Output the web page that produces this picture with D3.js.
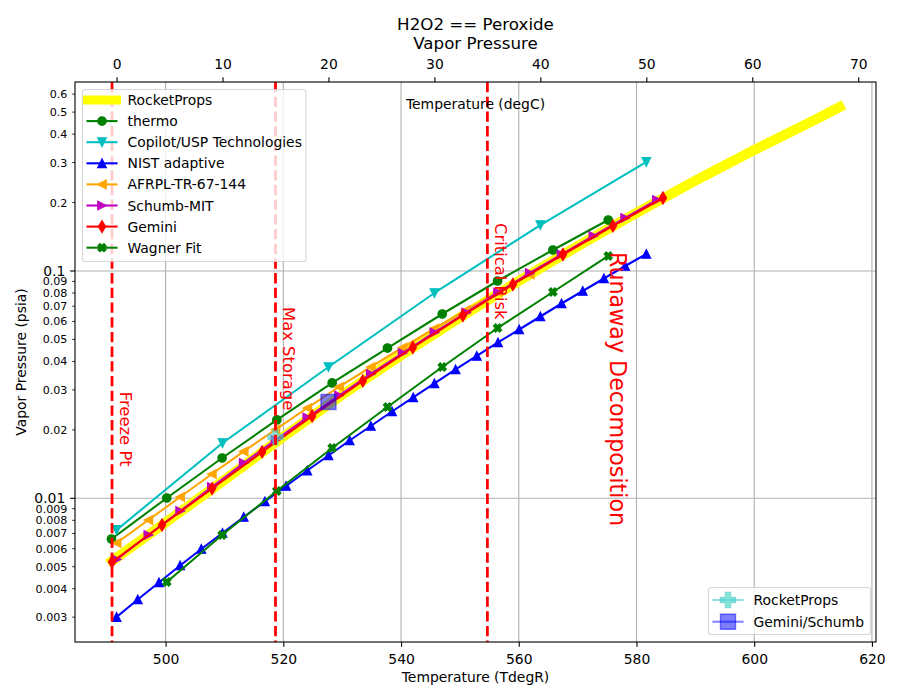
<!DOCTYPE html>
<html>
<head>
<meta charset="utf-8">
<script src="https://cdn.jsdelivr.net/npm/d3@7"></script>
<style>
  body { margin: 0; background: #fff; }
  text { font-family: "DejaVu Sans", sans-serif; }
</style>
</head>
<body>
<svg id="chart" width="900" height="700"></svg>
<script>
"use strict";

// ---- data (temperatures in degR, pressures in psia) ----
const rocketPropsT = [490.9, 500, 510, 520, 530, 540, 550, 560, 570, 580, 590, 600, 610, 614.5];
const rocketPropsP = [0.005299, 0.007824, 0.01205, 0.01866, 0.02850, 0.04253, 0.06243, 0.09036, 0.1286, 0.1803, 0.2498, 0.3406, 0.4583, 0.5266];

const thermoT = [490.8, 500.2, 509.6, 518.9, 528.3, 537.7, 547.0, 556.4, 565.8, 575.2];
const thermoP = [0.00662, 0.01003, 0.01504, 0.02211, 0.03216, 0.04583, 0.06468, 0.09036, 0.1237, 0.1676];

const copilotT = [491.67, 509.67, 527.67, 545.67, 563.67, 581.67];
const copilotP = [0.007254, 0.01751, 0.03781, 0.08002, 0.1593, 0.3017];

const nistT = [491.67, 495.27, 498.87, 502.47, 506.07, 509.67, 513.27, 516.87, 520.47, 524.07, 527.67, 531.27, 534.87,
               538.47, 542.07, 545.67, 549.27, 552.87, 556.47, 560.07, 563.67, 567.27, 570.87, 574.47, 578.07, 581.67];
const nistP = [0.003004, 0.003588, 0.004262, 0.005063, 0.005983, 0.007036, 0.008273, 0.009681, 0.01133, 0.01325, 0.01543, 0.01796, 0.02080,
               0.02409, 0.02777, 0.03200, 0.03687, 0.04227, 0.04847, 0.05528, 0.06307, 0.07194, 0.08166, 0.09268, 0.1052, 0.1188];

const afrplT = [491.67, 497.07, 502.47, 507.87, 513.27, 518.67, 524.07, 529.47, 534.87, 540.27, 545.67, 551.07, 556.47, 561.87];
const afrplP = [0.006357, 0.008025, 0.01013, 0.01279, 0.01607, 0.02007, 0.02496, 0.03088, 0.03781, 0.04607, 0.05585, 0.06736, 0.08083, 0.09652];

const schumbT = [491.67, 497.07, 502.47, 507.87, 513.27, 518.67, 524.07, 529.47, 534.87, 540.27, 545.67, 551.07, 556.47,
                 561.87, 567.27, 572.67, 578.07, 583.47];
const schumbP = [0.005381, 0.006895, 0.008793, 0.01121, 0.01430, 0.01805, 0.02267, 0.02833, 0.03523, 0.04357, 0.05364, 0.06567, 0.08043,
                 0.09799, 0.1182, 0.1426, 0.1711, 0.2053];

const geminiT = [490.9, 499.4, 507.9, 516.4, 524.9, 533.5, 542.0, 550.5, 559.0, 567.5, 576.0, 584.5];
const geminiP = [0.005246, 0.007629, 0.01104, 0.01599, 0.02302, 0.03282, 0.04607, 0.06371, 0.08723, 0.1182, 0.1578, 0.2095];

const wagnerT = [500.2, 509.6, 518.9, 528.3, 537.7, 547.0, 556.4, 565.8, 575.2];
const wagnerP = [0.004283, 0.006895, 0.01077, 0.01664, 0.02522, 0.03781, 0.05614, 0.08083, 0.1164];

// single reference points
const rpPointT = [518.67];
const rpPointP = [0.01861];
const gsPointT = [527.67];
const gsPointP = [0.02653];

// vertical limit lines and their labels
const limitNames = ["Freeze Pt", "Max Storage", "Critical Risk"];
const limitT = [490.9, 518.67, 554.67];
const limitLabelP = [0.02944, 0.06944, 0.1626];
const runawayName = "Runaway Decomposition";
const runawayT = 574.2;
const runawayP = 0.1212;

// ticks
const xTicks = [500, 520, 540, 560, 580, 600, 620];
const xTopTicks = [0, 10, 20, 30, 40, 50, 60, 70];
const yMajorTicks = [0.01, 0.1];
const yMinorTicks = [0.003, 0.004, 0.005, 0.006, 0.007, 0.008, 0.009,
                     0.02, 0.03, 0.04, 0.05, 0.06, 0.07, 0.08, 0.09,
                     0.2, 0.3, 0.4, 0.5, 0.6];

// ---- layout (1pt = 1.389px) ----
const L = 75, R = 876, T0 = 82, B = 642;
const FS = 13.9;
const TICK = 4.86;

const x = d3.scaleLinear().domain([484.61, 620.69]).range([L, R]);
const xTop = d3.scaleLinear().domain([(484.61 - 491.67) / 1.8, (620.69 - 491.67) / 1.8]).range([L, R]);
const y = d3.scaleLog().domain([0.0023322, 0.67838]).range([B, T0]);

const svg = d3.select("#chart");

svg.append("defs").append("clipPath").attr("id", "plotClip")
    .append("rect").attr("x", L).attr("y", T0).attr("width", R - L).attr("height", B - T0);

// grid
const grid = svg.append("g");
grid.selectAll("line.gx").data(xTicks).join("line").attr("class", "gx")
    .attr("x1", d => x(d)).attr("x2", d => x(d)).attr("y1", T0).attr("y2", B)
    .attr("stroke", "#b0b0b0").attr("stroke-width", 1.1);
grid.selectAll("line.gy").data(yMajorTicks).join("line").attr("class", "gy")
    .attr("x1", L).attr("x2", R).attr("y1", d => y(d)).attr("y2", d => y(d))
    .attr("stroke", "#b0b0b0").attr("stroke-width", 1.1);

// ---- marker shapes ----
function plusPts(s, w) {
    return [[-w, -s], [w, -s], [w, -w], [s, -w], [s, w], [w, w], [w, s], [-w, s], [-w, w], [-s, w], [-s, -w], [-w, -w]];
}
function ptsPath(pts) {
    return "M" + pts.map(p => p[0].toFixed(2) + "," + p[1].toFixed(2)).join("L") + "Z";
}
function rot45(pts) {
    const c = Math.SQRT1_2;
    return pts.map(p => [(p[0] - p[1]) * c, (p[0] + p[1]) * c]);
}
const markers = {
    circle: "M4.17,0A4.17,4.17 0 1,1 -4.17,0A4.17,4.17 0 1,1 4.17,0Z",
    triDown: "M0,4.17L4.17,-4.17L-4.17,-4.17Z",
    triUp: "M0,-4.17L4.17,4.17L-4.17,4.17Z",
    triLeft: "M-4.17,0L4.17,-4.17L4.17,4.17Z",
    triRight: "M4.17,0L-4.17,-4.17L-4.17,4.17Z",
    thinDiamond: "M0,-5.8L3.5,0L0,5.8L-3.5,0Z",
    xFilled: ptsPath(rot45(plusPts(4.17, 1.39))),
    plusBig: ptsPath(plusPts(7.5, 2.5)),
    squareBig: "M-7.5,-7.5L7.5,-7.5L7.5,7.5L-7.5,7.5Z"
};

const series = [
    {name: "RocketProps", T: rocketPropsT, P: rocketPropsP, color: "#ffff00", width: 10, marker: null},
    {name: "thermo", T: thermoT, P: thermoP, color: "#008000", width: 2.08, marker: "circle"},
    {name: "Copilot/USP Technologies", T: copilotT, P: copilotP, color: "#00bfbf", width: 2.08, marker: "triDown"},
    {name: "NIST adaptive", T: nistT, P: nistP, color: "#0000ff", width: 2.08, marker: "triUp"},
    {name: "AFRPL-TR-67-144", T: afrplT, P: afrplP, color: "#ffa500", width: 2.08, marker: "triLeft"},
    {name: "Schumb-MIT", T: schumbT, P: schumbP, color: "#bf00bf", width: 2.08, marker: "triRight"},
    {name: "Gemini", T: geminiT, P: geminiP, color: "#ff0000", width: 2.08, marker: "thinDiamond"},
    {name: "Wagner Fit", T: wagnerT, P: wagnerP, color: "#008000", width: 2.08, marker: "xFilled"}
];

const points = [
    {name: "RocketProps", T: rpPointT, P: rpPointP, color: "#48d1cc", marker: "plusBig", alpha: 0.6},
    {name: "Gemini/Schumb", T: gsPointT, P: gsPointP, color: "#0000ff", marker: "squareBig", alpha: 0.5}
];

const plot = svg.append("g").attr("clip-path", "url(#plotClip)");

series.forEach(s => {
    const idx = d3.range(s.T.length);
    const line = d3.line().x(i => x(s.T[i])).y(i => y(s.P[i]));
    plot.append("path").datum(idx)
        .attr("d", line)
        .attr("fill", "none")
        .attr("stroke", s.color)
        .attr("stroke-width", s.width)
        .attr("stroke-linecap", "square")
        .attr("stroke-linejoin", "round");
    if (s.marker) {
        plot.append("g").selectAll("path").data(idx).join("path")
            .attr("transform", i => `translate(${x(s.T[i])},${y(s.P[i])})`)
            .attr("d", markers[s.marker])
            .attr("fill", s.color)
            .attr("stroke", s.color)
            .attr("stroke-width", 1.39)
            .attr("stroke-linejoin", "miter");
    }
});

points.forEach(p => {
    plot.append("g").selectAll("path").data(d3.range(p.T.length)).join("path")
        .attr("transform", i => `translate(${x(p.T[i])},${y(p.P[i])})`)
        .attr("d", markers[p.marker])
        .attr("fill", p.color).attr("fill-opacity", p.alpha)
        .attr("stroke", p.color).attr("stroke-opacity", p.alpha)
        .attr("stroke-width", 1.39);
});

// limit lines
plot.append("g").selectAll("line").data(limitT).join("line")
    .attr("x1", d => x(d)).attr("x2", d => x(d)).attr("y1", T0).attr("y2", B)
    .attr("stroke", "#ff0000").attr("stroke-width", 2.78)
    .attr("stroke-dasharray", "10.3,4.4");

// limit labels (rotated, reading downward)
const notes = svg.append("g");
limitNames.forEach((name, i) => {
    const px = x(limitT[i]) + 8, py = y(limitLabelP[i]);
    notes.append("text")
        .attr("transform", `translate(${px},${py}) rotate(90)`)
        .attr("fill", "#ff0000").attr("font-size", 16.4)
        .text(name);
});
notes.append("text")
    .attr("transform", `translate(${x(runawayT) + 8},${y(runawayP)}) rotate(90)`)
    .attr("fill", "#ff0000").attr("font-size", 22.2)
    .text(runawayName);

// ---- axes ----
const axB = svg.append("g").attr("transform", `translate(0,${B})`)
    .call(d3.axisBottom(x).tickValues(xTicks).tickFormat(d3.format("d")).tickSize(TICK).tickPadding(7.2));
const axT = svg.append("g").attr("transform", `translate(0,${T0})`)
    .call(d3.axisTop(xTop).tickValues(xTopTicks).tickFormat(d3.format("d")).tickSize(TICK).tickPadding(8.6));
[axB, axT].forEach(a => {
    a.select(".domain").remove();
    a.selectAll("line").attr("stroke", "#000").attr("stroke-width", 1.1);
    a.selectAll("text").attr("font-size", FS).attr("font-family", "DejaVu Sans").attr("fill", "#000");
});

const axY = svg.append("g");
axY.selectAll("line.maj").data(yMajorTicks).join("line").attr("class", "maj")
    .attr("x1", L - TICK).attr("x2", L).attr("y1", d => y(d)).attr("y2", d => y(d))
    .attr("stroke", "#000").attr("stroke-width", 1.1);
axY.selectAll("line.min").data(yMinorTicks).join("line").attr("class", "min")
    .attr("x1", L - 2.78).attr("x2", L).attr("y1", d => y(d)).attr("y2", d => y(d))
    .attr("stroke", "#000").attr("stroke-width", 0.83);
axY.selectAll("text.maj").data(yMajorTicks).join("text").attr("class", "maj")
    .attr("x", L - 2 * TICK).attr("y", d => y(d)).attr("dy", "0.36em")
    .attr("text-anchor", "end").attr("font-size", FS)
    .text(d => d3.format("~g")(d));
axY.selectAll("text.min").data(yMinorTicks).join("text").attr("class", "min")
    .attr("x", L - 2.78 - TICK).attr("y", d => y(d)).attr("dy", "0.36em")
    .attr("text-anchor", "end").attr("font-size", 11.1)
    .text(d => d3.format("~g")(d));

// frame
svg.append("rect").attr("x", L).attr("y", T0).attr("width", R - L).attr("height", B - T0)
    .attr("fill", "none").attr("stroke", "#000").attr("stroke-width", 1.1);

// titles and labels
const cx = (L + R) / 2;
svg.append("text").attr("x", cx).attr("y", 29.5).attr("text-anchor", "middle").attr("font-size", 16.7).text("H2O2 == Peroxide");
svg.append("text").attr("x", cx).attr("y", 49).attr("text-anchor", "middle").attr("font-size", 16.7).text("Vapor Pressure");
svg.append("text").attr("x", cx).attr("y", 109).attr("text-anchor", "middle").attr("font-size", FS).text("Temperature (degC)");
svg.append("text").attr("x", cx).attr("y", 682).attr("text-anchor", "middle").attr("font-size", FS).text("Temperature (TdegR)");
svg.append("text").attr("transform", `translate(26,${(T0 + B) / 2}) rotate(-90)`)
    .attr("text-anchor", "middle").attr("font-size", FS).text("Vapor Pressure (psia)");

// ---- legends ----
function drawLegend(box, rows, entries) {
    const g = svg.append("g");
    g.append("rect").attr("x", box.x).attr("y", box.y).attr("width", box.w).attr("height", box.h)
        .attr("rx", 2.8).attr("fill", "#fff").attr("fill-opacity", 0.8)
        .attr("stroke", "#cccccc").attr("stroke-opacity", 0.8).attr("stroke-width", 1.1);
    entries.forEach((e, i) => {
        const ry = rows[i];
        const hx0 = box.x + 5, hx1 = box.x + 34, hm = (hx0 + hx1) / 2;
        const a = e.alpha == null ? 1 : e.alpha;
        g.append("line").attr("x1", hx0).attr("x2", hx1).attr("y1", ry).attr("y2", ry)
            .attr("stroke", e.color).attr("stroke-opacity", a)
            .attr("stroke-width", e.width > 5 ? 9 : 2.08).attr("stroke-linecap", "square");
        if (e.marker) {
            g.append("path").attr("transform", `translate(${hm},${ry})`).attr("d", markers[e.marker])
                .attr("fill", e.color).attr("fill-opacity", a)
                .attr("stroke", e.color).attr("stroke-opacity", a).attr("stroke-width", 1.39);
        }
        g.append("text").attr("x", box.x + 45).attr("y", ry).attr("dy", "0.36em")
            .attr("font-size", FS).text(e.name);
    });
}

drawLegend({x: 82.5, y: 89.5, w: 223.5, h: 172},
    [100, 121.1, 142.2, 163.3, 184.4, 205.5, 226.6, 247.7], series);
drawLegend({x: 708.5, y: 587.5, w: 162, h: 47},
    [600, 621.7],
    [{name: "RocketProps", color: "#48d1cc", marker: "plusBig", alpha: 0.6},
     {name: "Gemini/Schumb", color: "#0000ff", marker: "squareBig", alpha: 0.5}]);
</script>
</body>
</html>
